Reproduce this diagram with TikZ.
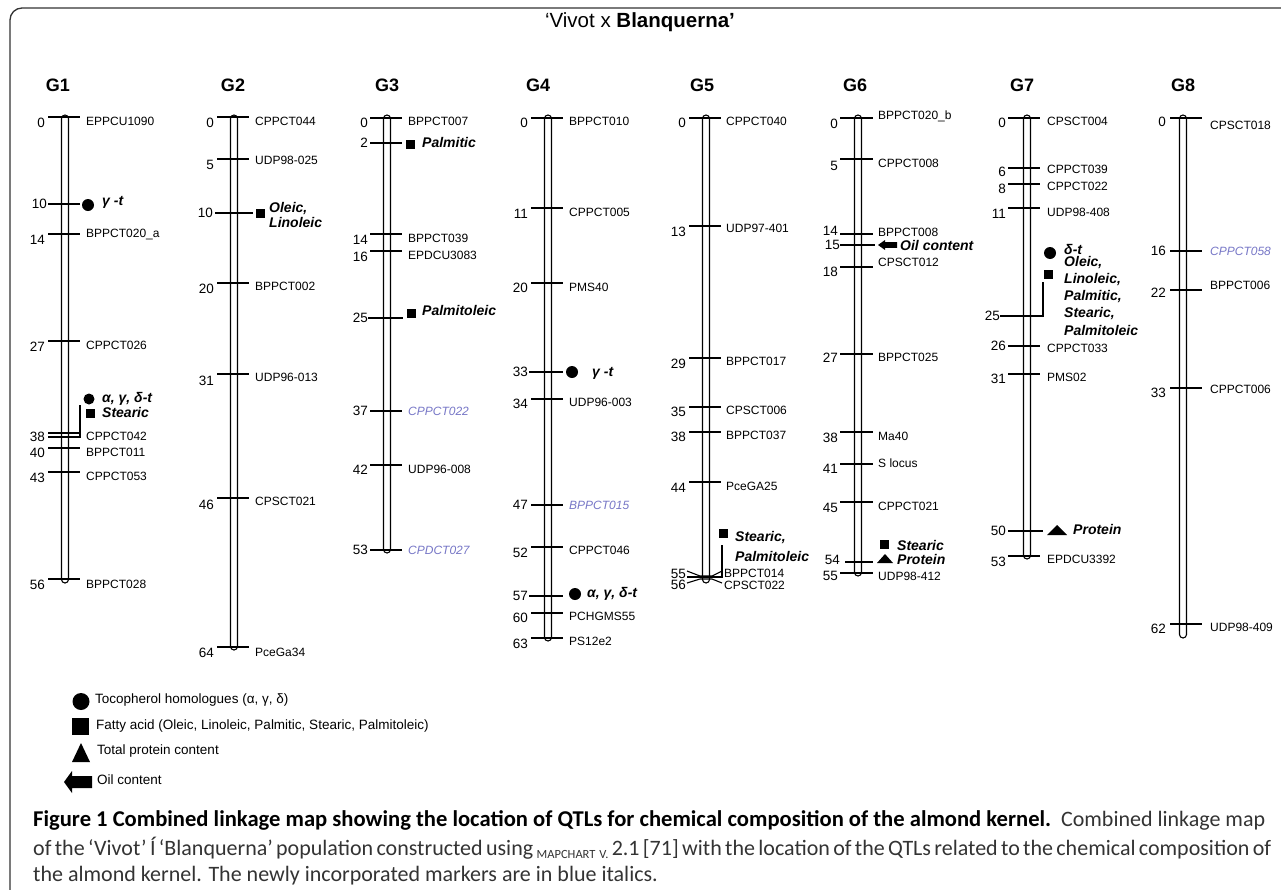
\documentclass[tikz,border=0pt]{standalone}
\usepackage{fontspec}
\setmainfont{Liberation Sans}
\newfontfamily\capfont{Carlito}
\usetikzlibrary{shapes.geometric}
\definecolor{mkblue}{RGB}{118,118,198}
\newcommand{\nmk}[1]{\textcolor{mkblue}{\itshape #1}}

\begin{document}
\begin{tikzpicture}[x=1pt, y=-1pt,
    frame/.style={draw=black!80, line width=1.3pt, rounded corners=12pt},
    bar/.style={draw, line width=1.1pt, rounded corners=3.5pt},
    tick/.style={line width=1.1pt},
    qtl/.style={line width=2.6pt},
    grp/.style={font=\fontsize{18}{20}\selectfont\bfseries},
    num/.style={anchor=east, inner sep=0pt, font=\fontsize{13.5}{14}\selectfont},
    mk/.style={anchor=west, inner sep=0pt, font=\fontsize{12}{12}\selectfont},
    qlab/.style={anchor=west, inner sep=0pt, font=\fontsize{14}{16}\selectfont\bfseries\itshape},
    dot/.style={circle, fill, inner sep=0pt, minimum size=12pt},
    sq/.style={rectangle, fill, inner sep=0pt, minimum size=9pt},
    legtxt/.style={anchor=west, inner sep=0pt, font=\fontsize{13.5}{14}\selectfont},
    captxt/.style={anchor=west, inner sep=0pt, font=\capfont\fontsize{22}{24}\selectfont}]

  \useasboundingbox (0,0) rectangle (1281,889);
  \draw[frame] (10,895) -- (10,8) -- (1295,8);

  \node[font=\fontsize{20.5}{22}\selectfont] (title) at (640,22) {‘Vivot x \textbf{Blanquerna’}};

  % G1
  \begin{scope}[xshift=65pt]
    \node[grp] (g1) at (-7,85) {G1};
    \draw[bar] (-3.5,115) rectangle (3.5,583);
    \foreach \y/\c/\nm/\dn/\dm in {117/0/EPPCU1090/6/4, 234/14/BPPCT020\_a/6/0,
        341/27/CPPCT026/6/4, 433/38/CPPCT042/4/3, 448/40/BPPCT011/5/4,
        472/43/CPPCT053/6/4, 579/56/BPPCT028/6/5}
    {
      \coordinate (g1l\c) at (-17,\y);
      \coordinate (g1r\c) at (15,\y);
      \draw[tick] (g1l\c) -- (g1r\c);
      \node[num] (g1n\c) at (-20,\y+\dn) {\c};
      \node[mk] (g1m\c) at (21,\y+\dm) {\nm};
    }
    % QTLs
    \draw[qtl] (-17,204) -- (15,204);
    \node[num] (g1n10) at (-18,204) {10};
    \node[dot] (g1c10) at (23,205) {};
    \node[qlab] (g1q10) at (37,202) {γ -t};
    \coordinate (g1b) at (15,405);
    \draw[tick, line width=1.6pt] (-17,437) -- (15,437) -- (g1b);
    \node[dot, minimum size=11pt] (g1c38) at (24,399) {};
    \node[sq] (g1s38) at (25,413) {};
    \node[qlab] (g1q38a) at (37,399) {α, γ, δ-t};
    \node[qlab] (g1q38b) at (37,412) {Stearic};
  \end{scope}

  % G2
  \begin{scope}[xshift=234pt]
    \node[grp] (g2) at (-1,85) {G2};
    \draw[bar] (-3.5,115) rectangle (3.5,650);
    \foreach \y/\c/\nm/\dn/\dm in {117/0/CPPCT044/6/4, 159/5/UDP98-025/6/1,
        283/20/BPPCT002/6/3, 374/31/UDP96-013/7/3, 498/46/CPSCT021/7/3,
        647/64/PceGa34/6/5}
    {
      \coordinate (g2l\c) at (-17,\y);
      \coordinate (g2r\c) at (15,\y);
      \draw[tick] (g2l\c) -- (g2r\c);
      \node[num] (g2n\c) at (-20,\y+\dn) {\c};
      \node[mk] (g2m\c) at (21,\y+\dm) {\nm};
    }
    \draw[qtl] (-19,213) -- (19,213);
    \node[num] (g2n10) at (-21,213) {10};
    \node[sq] (g2s10) at (26,213) {};
    \node[qlab] (g2q10a) at (35,209) {Oleic,};
    \node[qlab] (g2q10b) at (35,222) {Linoleic};
  \end{scope}

  % G3
  \begin{scope}[xshift=387pt]
    \node[grp] (g3) at (0,85) {G3};
    \draw[bar] (-3.5,115) rectangle (3.5,553);
    \foreach \y/\c/\nm/\dn/\dm in {118/0/BPPCT007/5/3, 234/14/BPPCT039/6/4,
        251/16/EPDCU3083/6/4, 411/37/\nmk{CPPCT022}/0/0, 465/42/UDP96-008/5/4,
        550/53/\nmk{CPDCT027}/0/0}
    {
      \coordinate (g3l\c) at (-17,\y);
      \coordinate (g3r\c) at (15,\y);
      \draw[tick] (g3l\c) -- (g3r\c);
      \node[num] (g3n\c) at (-19,\y+\dn) {\c};
      \node[mk] (g3m\c) at (21,\y+\dm) {\nm};
    }
    \draw[qtl] (-17,143) -- (15,143);
    \node[num] (g3n2) at (-19,143) {2};
    \node[sq] (g3s2) at (23,144) {};
    \node[qlab] (g3q2) at (35,142) {Palmitic};
    \draw[qtl] (-19,318) -- (16,318);
    \node[num] (g3n25) at (-19,318) {25};
    \node[sq] (g3s25) at (24,313) {};
    \node[qlab] (g3q25) at (35,310) {Palmitoleic};
  \end{scope}

  % G4
  \begin{scope}[xshift=548pt]
    \node[grp] (g4) at (-10,85) {G4};
    \draw[bar] (-3.5,115) rectangle (3.5,641);
    \foreach \y/\c/\nm/\dn/\dm in {118/0/BPPCT010/5/3, 208/11/CPPCT005/6/4,
        283/20/PMS40/5/4, 399/34/UDP96-003/5/3, 505/47/\nmk{BPPCT015}/0/0,
        547/52/CPPCT046/6/3, 613/60/PCHGMS55/5/3, 638/63/PS12e2/6/3}
    {
      \coordinate (g4l\c) at (-17,\y);
      \coordinate (g4r\c) at (15,\y);
      \draw[tick] (g4l\c) -- (g4r\c);
      \node[num] (g4n\c) at (-20,\y+\dn) {\c};
      \node[mk] (g4m\c) at (21,\y+\dm) {\nm};
    }
    \draw[qtl] (-19,372) -- (15,372);
    \node[num] (g4n33) at (-20,372) {33};
    \node[dot] (g4c33) at (24,372) {};
    \node[qlab] (g4q33) at (44,373) {γ -t};
    \draw[qtl] (-19,596) -- (15,596);
    \node[num] (g4n57) at (-20,596) {57};
    \node[dot] (g4c57) at (27,594) {};
    \node[qlab] (g4q57) at (39,594) {α, γ, δ-t};
  \end{scope}

  % G5
  \begin{scope}[xshift=706pt]
    \node[grp] (g5) at (-4,85) {G5};
    \draw[bar] (-3.5,115) rectangle (3.5,583);
    \foreach \y/\c/\nm/\dn/\dm in {118/0/CPPCT040/5/3, 226/13/UDP97-401/6/2,
        358/29/BPPCT017/6/3, 407/35/CPSCT006/5/3, 432/38/BPPCT037/5/3,
        482/44/PceGA25/6/4}
    {
      \coordinate (g5l\c) at (-17,\y);
      \coordinate (g5r\c) at (15,\y);
      \draw[tick] (g5l\c) -- (g5r\c);
      \node[num] (g5n\c) at (-20,\y+\dn) {\c};
      \node[mk] (g5m\c) at (20,\y+\dm) {\nm};
    }
    \draw[tick] (-19,571) -- (-6,576) -- (6,576) -- (16,571);
    \draw[tick] (-19,583) -- (-6,579) -- (6,579) -- (16,583);
    \node[num] (g5n55) at (-20,574) {55};
    \node[num] (g5n56) at (-20,585) {56};
    \node[mk] (g5m55) at (18,573) {BPPCT014};
    \node[mk] (g5m56) at (18,585) {CPSCT022};
    \coordinate (g5b) at (16,545);
    \draw[tick, line width=1.6pt] (-19,577) -- (16,577) -- (g5b);
    \node[sq] (g5s55) at (17,533) {};
    \node[qlab] (g5q55a) at (29,538) {Stearic,};
    \node[qlab] (g5q55b) at (29,556) {Palmitoleic};
  \end{scope}

  % G6
  \begin{scope}[xshift=858pt]
    \node[grp] (g6) at (-3,85) {G6};
    \draw[bar] (-3.5,115) rectangle (3.5,576);
    \foreach \y/\c/\nm/\dn/\dm in {118/0/BPPCT020\_b/6/-2, 159/5/CPPCT008/7/4,
        234/14/BPPCT008/-3/-2, 267/18/CPSCT012/5/-5, 354/27/BPPCT025/4/3,
        432/38/Ma40/6/4, 464/41/S locus/5/-1, 502/45/CPPCT021/6/4,
        573/55/UDP98-412/3/3}
    {
      \coordinate (g6l\c) at (-18,\y);
      \coordinate (g6r\c) at (15,\y);
      \draw[tick] (g6l\c) -- (g6r\c);
      \node[num] (g6n\c) at (-20,\y+\dn) {\c};
      \node[mk] (g6m\c) at (20,\y+\dm) {\nm};
    }
    \draw[qtl] (-18,245) -- (17,245);
    \node[num] (g6n15) at (-18,245) {15};
    \coordinate (g6a15) at (20,245);
    \fill (g6a15) -- ++(7,-5) -- ++(0,2.2) -- ++(12,0) -- ++(0,5.6) -- ++(-12,0) -- ++(0,2.2) -- cycle;
    \node[qlab] (g6q15) at (42,245) {Oil content};
    \draw[qtl] (-13,562) -- (15,562);
    \node[num] (g6n54) at (-18,560) {54};
    \node[sq] (g6s54) at (26,544) {};
    \coordinate (g6t54) at (27,554);
    \fill (g6t54) -- ++(8,9) -- ++(-16,0) -- cycle;
    \node[qlab] (g6q54a) at (39,545) {Stearic};
    \node[qlab] (g6q54b) at (39,559) {Protein};
  \end{scope}

  % G7
  \begin{scope}[xshift=1027pt]
    \node[grp] (g7) at (-5,85) {G7};
    \draw[bar] (-3.5,115) rectangle (3.5,559);
    \foreach \y/\c/\nm/\dn/\dm in {118/0/CPSCT004/5/3, 168/6/CPPCT039/4/1,
        184/8/CPPCT022/5/2, 208/11/UDP98-408/6/4, 346/26/CPPCT033/0/2,
        374/31/PMS02/5/3, 556/53/EPDCU3392/6/3}
    {
      \coordinate (g7l\c) at (-19,\y);
      \coordinate (g7r\c) at (13,\y);
      \draw[tick] (g7l\c) -- (g7r\c);
      \node[num] (g7n\c) at (-21,\y+\dn) {\c};
      \node[mk] (g7m\c) at (20,\y+\dm) {\nm};
    }
    \coordinate (g7b) at (16,282);
    \draw[qtl] (-27,316) -- (16,316);
    \draw[tick, line width=1.6pt] (16,317) -- (g7b);
    \node[num] (g7n25) at (-27,316) {25};
    \node[dot] (g7c25) at (23,253) {};
    \node[sq] (g7s25) at (21,274) {};
    \foreach \t/\yy [count=\i] in {δ-t/249, {Oleic,}/263, {Linoleic,}/280,
        {Palmitic,}/297, {Stearic,}/314, Palmitoleic/330}
      \node[qlab] (g7q25\i) at (37,\yy) {\t};
    \draw[qtl] (-19,531) -- (16,531);
    \node[num] (g7n50) at (-21,531) {50};
    \coordinate (g7t50) at (30,525);
    \fill (g7t50) -- ++(10,10) -- ++(-20,0) -- cycle;
    \node[qlab] (g7q50) at (46,529) {Protein};
  \end{scope}

  % G8
  \begin{scope}[xshift=1183pt]
    \node[grp] (g8) at (0,85) {G8};
    \draw[bar] (-3.5,115) rectangle (3.5,638);
    \foreach \y/\c/\nm/\dn/\dm in {118/0/CPSCT018/4/7, 251/16/\nmk{CPPCT058}/0/0,
        290/22/BPPCT006/3/-5, 388/33/CPPCT006/5/1, 624/62/UDP98-409/5/3}
    {
      \coordinate (g8l\c) at (-13,\y);
      \coordinate (g8r\c) at (19,\y);
      \draw[tick] (g8l\c) -- (g8r\c);
      \node[num] (g8n\c) at (-17,\y+\dn) {\c};
      \node[mk] (g8m\c) at (27,\y+\dm) {\nm};
    }
  \end{scope}

  % legend
  \node[dot, minimum size=17pt] (ldot) at (81,701.5) {};
  \node[legtxt] (ltoc) at (95,700) {Tocopherol homologues (α, γ, δ)};
  \node[sq, minimum size=17pt] (lsq) at (80.5,726) {};
  \node[legtxt] (lfat) at (96,726) {Fatty acid (Oleic, Linoleic, Palmitic, Stearic, Palmitoleic)};
  \coordinate (ltri) at (81,743);
  \fill (ltri) -- ++(9,19) -- ++(-18,0) -- cycle;
  \node[legtxt] (lpro) at (97,751) {Total protein content};
  \coordinate (larr) at (64,782);
  \fill (larr) -- ++(8,-11) -- ++(0,5) -- ++(20,0) -- ++(0,12) -- ++(-20,0) -- ++(0,5) -- cycle;
  \node[legtxt] (loil) at (97,780) {Oil content};

  % caption
  \node[captxt] (cap1) at (33,820) {\makebox[1232pt][l]{{\fontsize{22.6}{24}\selectfont\bfseries Figure 1 Combined linkage map showing the location of QTLs for chemical composition of the almond kernel.}\hfill \textcolor{black!80}{Combined linkage map}}};
  \node[captxt, text=black!80] (cap2) at (33,848) {\spaceskip=0.18em plus 0.1em minus 0.08em\makebox[1238pt][s]{of the ‘Vivot’ Í ‘Blanquerna’ population constructed using \raisebox{-3pt}{\fontsize{12.5}{13}\selectfont MAPCHART V.} 2.1 [71] with the location of the QTLs related to the chemical composition of}};
  \node[captxt, text=black!80] (cap3) at (33,876) {the almond kernel. The newly incorporated markers are in blue italics.};
\end{tikzpicture}
\end{document}
